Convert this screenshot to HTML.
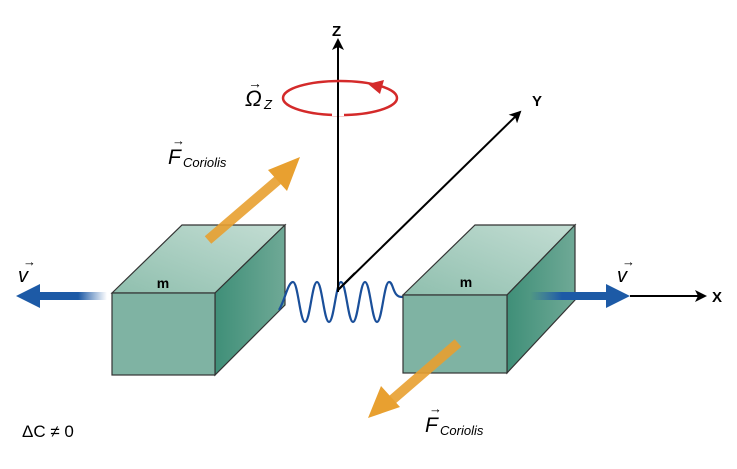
<!DOCTYPE html>
<html><head><style>body{margin:0;background:#fff;width:737px;height:469px;overflow:hidden}svg{display:block}</style></head><body>
<svg width="737" height="469" xmlns="http://www.w3.org/2000/svg" font-family="Liberation Sans, sans-serif">
<defs>
<linearGradient id="top" x1="0" y1="1" x2="1" y2="0"><stop offset="0" stop-color="#8fbfae"/><stop offset="1" stop-color="#c3ddd3"/></linearGradient>
<linearGradient id="side" x1="0" y1="0" x2="1" y2="0"><stop offset="0" stop-color="#3f8f78"/><stop offset="1" stop-color="#6fa996"/></linearGradient>
<linearGradient id="bl" x1="1" y1="0" x2="0" y2="0"><stop offset="0" stop-color="#1d5aa6" stop-opacity="0"/><stop offset="0.4" stop-color="#1d5aa6"/></linearGradient>
<linearGradient id="br" x1="0" y1="0" x2="1" y2="0"><stop offset="0" stop-color="#1d5aa6" stop-opacity="0"/><stop offset="0.4" stop-color="#1d5aa6"/></linearGradient>
<marker id="ah" markerWidth="12" markerHeight="12" refX="10" refY="6" orient="auto" markerUnits="userSpaceOnUse"><path d="M0,0 L12,6 L0,12 L3,6z" fill="#000"/></marker>
</defs>
<line x1="338" y1="290" x2="338" y2="40" stroke="#000" stroke-width="2" marker-end="url(#ah)"/>
<line x1="338" y1="290" x2="520" y2="112" stroke="#000" stroke-width="2" marker-end="url(#ah)"/>
<text x="332" y="36" font-size="15" font-weight="bold">Z</text>
<text x="532" y="106" font-size="15" font-weight="bold">Y</text>
<ellipse cx="340" cy="98" rx="57" ry="17" fill="none" stroke="#d42a2a" stroke-width="2.5"/>
<path d="M368,84 l16,-4 l-4,14z" fill="#d42a2a"/>
<rect x="332" y="112" width="12" height="4" fill="#fff"/>
<line x1="338" y1="110" x2="338" y2="120" stroke="#000" stroke-width="2"/>
<text x="245" y="106" font-size="22" font-style="italic">Ω</text><text x="264" y="109" font-size="13" font-style="italic">Z</text>
<text x="248" y="88" font-size="14">→</text>
<polygon points="112,293 182,225 285,225 215,293" fill="url(#top)" stroke="#333" stroke-width="1.2"/>
<polygon points="215,293 285,225 285,305 215,375" fill="url(#side)" stroke="#333" stroke-width="1.2"/>
<rect x="112" y="293" width="103" height="82" fill="#7fb3a3" stroke="#333" stroke-width="1.2"/>
<text x="163" y="288" font-size="14" font-weight="bold" text-anchor="middle">m</text>
<path d="M208,240 L278,180" stroke="#e8a030" stroke-width="10" opacity="0.9"/>
<path d="M300,157 L268,170 L287,191z" fill="#e8a030"/>
<path d="M279,310 C285,300 288,282 293,282 C298,282 300,322 305,322 C310,322 312,282 317,282 C322,282 324,322 329,322 C334,322 336,282 341,282 C346,282 348,322 353,322 C358,322 360,282 365,282 C370,282 372,322 377,322 C382,322 384,282 389,282 C394,282 392,298 403,297" fill="none" stroke="#1a4f9a" stroke-width="2.2"/>
<line x1="338" y1="268" x2="338" y2="292" stroke="#000" stroke-width="2"/>
<line x1="338" y1="290" x2="355" y2="273" stroke="#000" stroke-width="2"/>
<polygon points="403,295 475,225 575,225 507,295" fill="url(#top)" stroke="#333" stroke-width="1.2"/>
<polygon points="507,295 575,225 575,300 507,373" fill="url(#side)" stroke="#333" stroke-width="1.2"/>
<rect x="403" y="295" width="104" height="78" fill="#7fb3a3" stroke="#333" stroke-width="1.2"/>
<text x="466" y="287" font-size="14" font-weight="bold" text-anchor="middle">m</text>
<path d="M458,343 L392,400" stroke="#e8a030" stroke-width="10" opacity="0.9"/>
<path d="M368,418 L400,407 L381,386z" fill="#e8a030"/>
<rect x="35" y="292" width="72" height="8" fill="url(#bl)"/>
<path d="M16,296 L40,284 L40,308z" fill="#1d5aa6"/>
<rect x="530" y="292" width="80" height="8" fill="url(#br)"/>
<path d="M630,296 L606,284 L606,308z" fill="#1d5aa6"/>
<line x1="630" y1="296" x2="705" y2="296" stroke="#000" stroke-width="2" marker-end="url(#ah)"/>
<text x="712" y="302" font-size="15" font-weight="bold">X</text>
<text x="18" y="282" font-size="20" font-style="italic">v</text><text x="23" y="266" font-size="13">→</text>
<text x="617" y="282" font-size="20" font-style="italic">v</text><text x="622" y="266" font-size="13">→</text>
<text x="168" y="164" font-size="21" font-style="italic">F</text><text x="183" y="167" font-size="13" font-style="italic">Coriolis</text><text x="172" y="145" font-size="13">→</text>
<text x="425" y="432" font-size="21" font-style="italic">F</text><text x="440" y="435" font-size="13" font-style="italic">Coriolis</text><text x="429" y="413" font-size="13">→</text>
<text x="22" y="437" font-size="17">ΔC ≠ 0</text>
</svg>
</body></html>
